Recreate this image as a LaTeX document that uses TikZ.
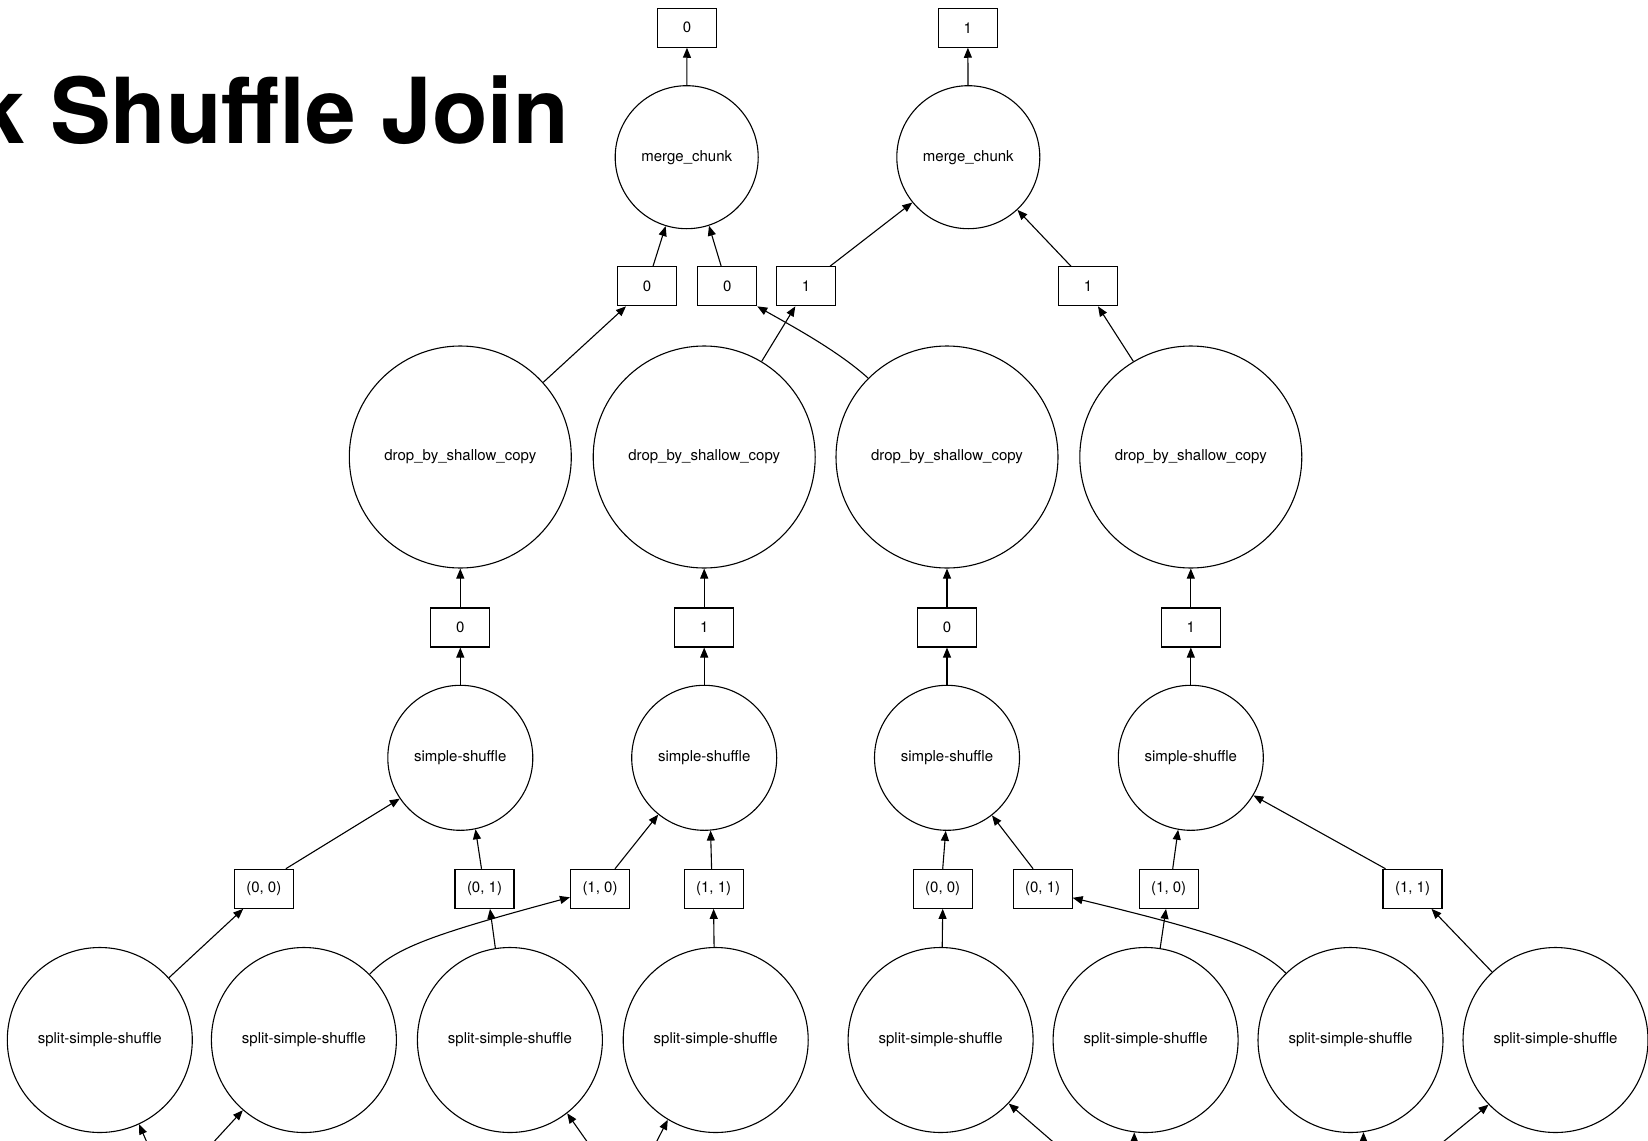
\documentclass[tikz,border=0pt]{standalone}
\usepackage{fontspec}
\setmainfont{TeX Gyre Heros}
\usetikzlibrary{arrows.meta}
\begin{document}
\begin{tikzpicture}[x=1pt,y=-1pt,
  lbl/.style={font=\fontsize{15}{18}\selectfont},
  task/.style={lbl,circle,draw,line width=1.1pt,inner sep=0pt},
  mergenode/.style={task,minimum size=143pt},
  dropnode/.style={task,minimum size=222pt},
  shufnode/.style={task,minimum size=145pt},
  splitnode/.style={task,minimum size=185pt},
  data/.style={lbl,rectangle,draw,line width=1.1pt,minimum width=59pt,minimum height=39pt,inner sep=0pt},
  dep/.style={line width=1.1pt,-{Triangle[length=10pt,width=8pt]}}
]
\useasboundingbox (0,0) rectangle (1648,1140);

% title
\node[anchor=base west,inner sep=0pt,font=\bfseries\fontsize{91}{100}\selectfont] (title) at (-26,143) {k Shuffle Join};

% outputs
\node[data] (out0) at (687,27.7) {0};
\node[data] (out1) at (967.8,27.7) {1};
\node[mergenode] (mc0) at (686.7,157.2) {merge\_chunk};
\node[mergenode] (mc1) at (968.3,157.2) {merge\_chunk};

% merge inputs
\node[data] (p0a) at (647,286.3) {0};
\node[data] (p0b) at (727.2,286.3) {0};
\node[data] (p1a) at (806,286.3) {1};
\node[data] (p1b) at (1088,286.3) {1};

% drop_by_shallow_copy
\node[dropnode] (d1) at (460.3,457) {drop\_by\_shallow\_copy};
\node[dropnode] (d2) at (704.2,457) {drop\_by\_shallow\_copy};
\node[dropnode] (d3) at (947,457) {drop\_by\_shallow\_copy};
\node[dropnode] (d4) at (1190.8,457) {drop\_by\_shallow\_copy};

\node[data] (q1) at (460.3,627.5) {0};
\node[data] (q2) at (704.2,627.5) {1};
\node[data] (q3) at (947,627.5) {0};
\node[data] (q4) at (1190.8,627.5) {1};

% simple-shuffle
\node[shufnode] (s1) at (460.3,757.8) {simple-shuffle};
\node[shufnode] (s2) at (704.2,757.8) {simple-shuffle};
\node[shufnode] (s3) at (947,757.8) {simple-shuffle};
\node[shufnode] (s4) at (1190.8,757.8) {simple-shuffle};

% split outputs
\node[data] (a00) at (263.8,888.8) {(0, 0)};
\node[data] (a01) at (484.5,888.8) {(0, 1)};
\node[data] (a10) at (600,888.8) {(1, 0)};
\node[data] (a11) at (713.6,888.8) {(1, 1)};
\node[data] (b00) at (942.7,888.8) {(0, 0)};
\node[data] (b01) at (1042.6,888.8) {(0, 1)};
\node[data] (b10) at (1168.7,888.8) {(1, 0)};
\node[data] (b11) at (1412.5,888.8) {(1, 1)};

% split-simple-shuffle
\node[splitnode] (sp1) at (99.8,1040) {split-simple-shuffle};
\node[splitnode] (sp2) at (303.9,1040) {split-simple-shuffle};
\node[splitnode] (sp3) at (509.9,1040) {split-simple-shuffle};
\node[splitnode] (sp4) at (715.7,1040) {split-simple-shuffle};
\node[splitnode] (sp5) at (940.6,1040) {split-simple-shuffle};
\node[splitnode] (sp6) at (1145.6,1040) {split-simple-shuffle};
\node[splitnode] (sp7) at (1350.5,1040) {split-simple-shuffle};
\node[splitnode] (sp8) at (1555.5,1040) {split-simple-shuffle};

% upstream tasks below the frame
\coordinate (u1) at (171.8,1200);
\coordinate (u2) at (187.3,1170.7);
\coordinate (u3) at (604.7,1166.7);
\coordinate (u4) at (646.3,1161.7);
\coordinate (u5) at (1093.3,1176.7);
\coordinate (u6) at (1134,1180);
\coordinate (u7) at (1363.5,1180);
\coordinate (u8) at (1400.7,1176.7);

% edges: top level
\draw[dep] (mc0) -- (out0);
\draw[dep] (mc1) -- (out1);
\draw[dep] ([xshift=6pt]p0a.north) -- (mc0.-107.5);
\draw[dep] ([xshift=-6pt]p0b.north) -- (mc0.-72.3);
\draw[dep] ([xshift=24pt]p1a.north) -- (mc1.-141.2);
\draw[dep] ([xshift=-17pt]p1b.north) -- (mc1.-47);

% drop -> merge inputs
\draw[dep] (d1.42.9) -- ([xshift=-21pt]p0a.south);
\draw[dep] (d2.59.3) -- ([xshift=-10.7pt]p1a.south);
\draw[dep] (d3.135.4) .. controls (837,350) and (790,325) .. (p0b.south east);
\draw[dep] (d4.121.5) -- ([xshift=10pt]p1b.south);

% shuffle -> drop
\foreach \i in {1,2,3,4}{
  \draw[dep] (q\i) -- (d\i);
  \draw[dep] (s\i) -- (q\i);
}

% split outputs -> shuffle
\draw[dep] ([xshift=22pt]a00.north) -- (s1.-146);
\draw[dep] ([xshift=-3pt]a01.north) -- (s1.-78.5);
\draw[dep] ([xshift=15pt]a10.north) -- (s2.-129.2);
\draw[dep] ([xshift=-2pt]a11.north) -- (s2.-85);
\draw[dep] (b00.north) -- (s3.-91);
\draw[dep] ([xshift=-9.5pt]b01.north) -- (s3.-52);
\draw[dep] ([xshift=4pt]b10.north) -- (s4.-100.8);
\draw[dep] ([xshift=-27pt]b11.north) -- (s4.-31.4);

% split -> split outputs
\draw[dep] (sp1.42) -- ([xshift=-20.6pt]a00.south);
\draw[dep] (sp2.45) .. controls (395,948) and (430,935) .. ([yshift=-8.5pt]a10.west);
\draw[dep] (sp3.99.2) -- ([xshift=5.5pt]a01.south);
\draw[dep] (sp4.91) -- (a11.south);
\draw[dep] (sp5.89) -- (b00.south);
\draw[dep] (sp6.81.1) -- ([xshift=-2.7pt]b10.south);
\draw[dep] (sp7.134.5) .. controls (1260,948) and (1222,934) .. ([yshift=-9pt]b01.east);
\draw[dep] (sp8.133.9) -- ([xshift=19pt]b11.south);

% inputs from below
\draw[dep] (u1) -- (sp1.-65.7);
\draw[dep] (u2) -- (sp2.-131.4);
\draw[dep] (u3) -- (sp3.-52.2);
\draw[dep] (u4) -- (sp4.-121.2);
\draw[dep] (u5) -- (sp5.-43.8);
\draw[dep] (u6) -- (sp6.-97.6);
\draw[dep] (u7) -- (sp7.-82.7);
\draw[dep] (u8) -- (sp8.-136.3);
\end{tikzpicture}
\end{document}
